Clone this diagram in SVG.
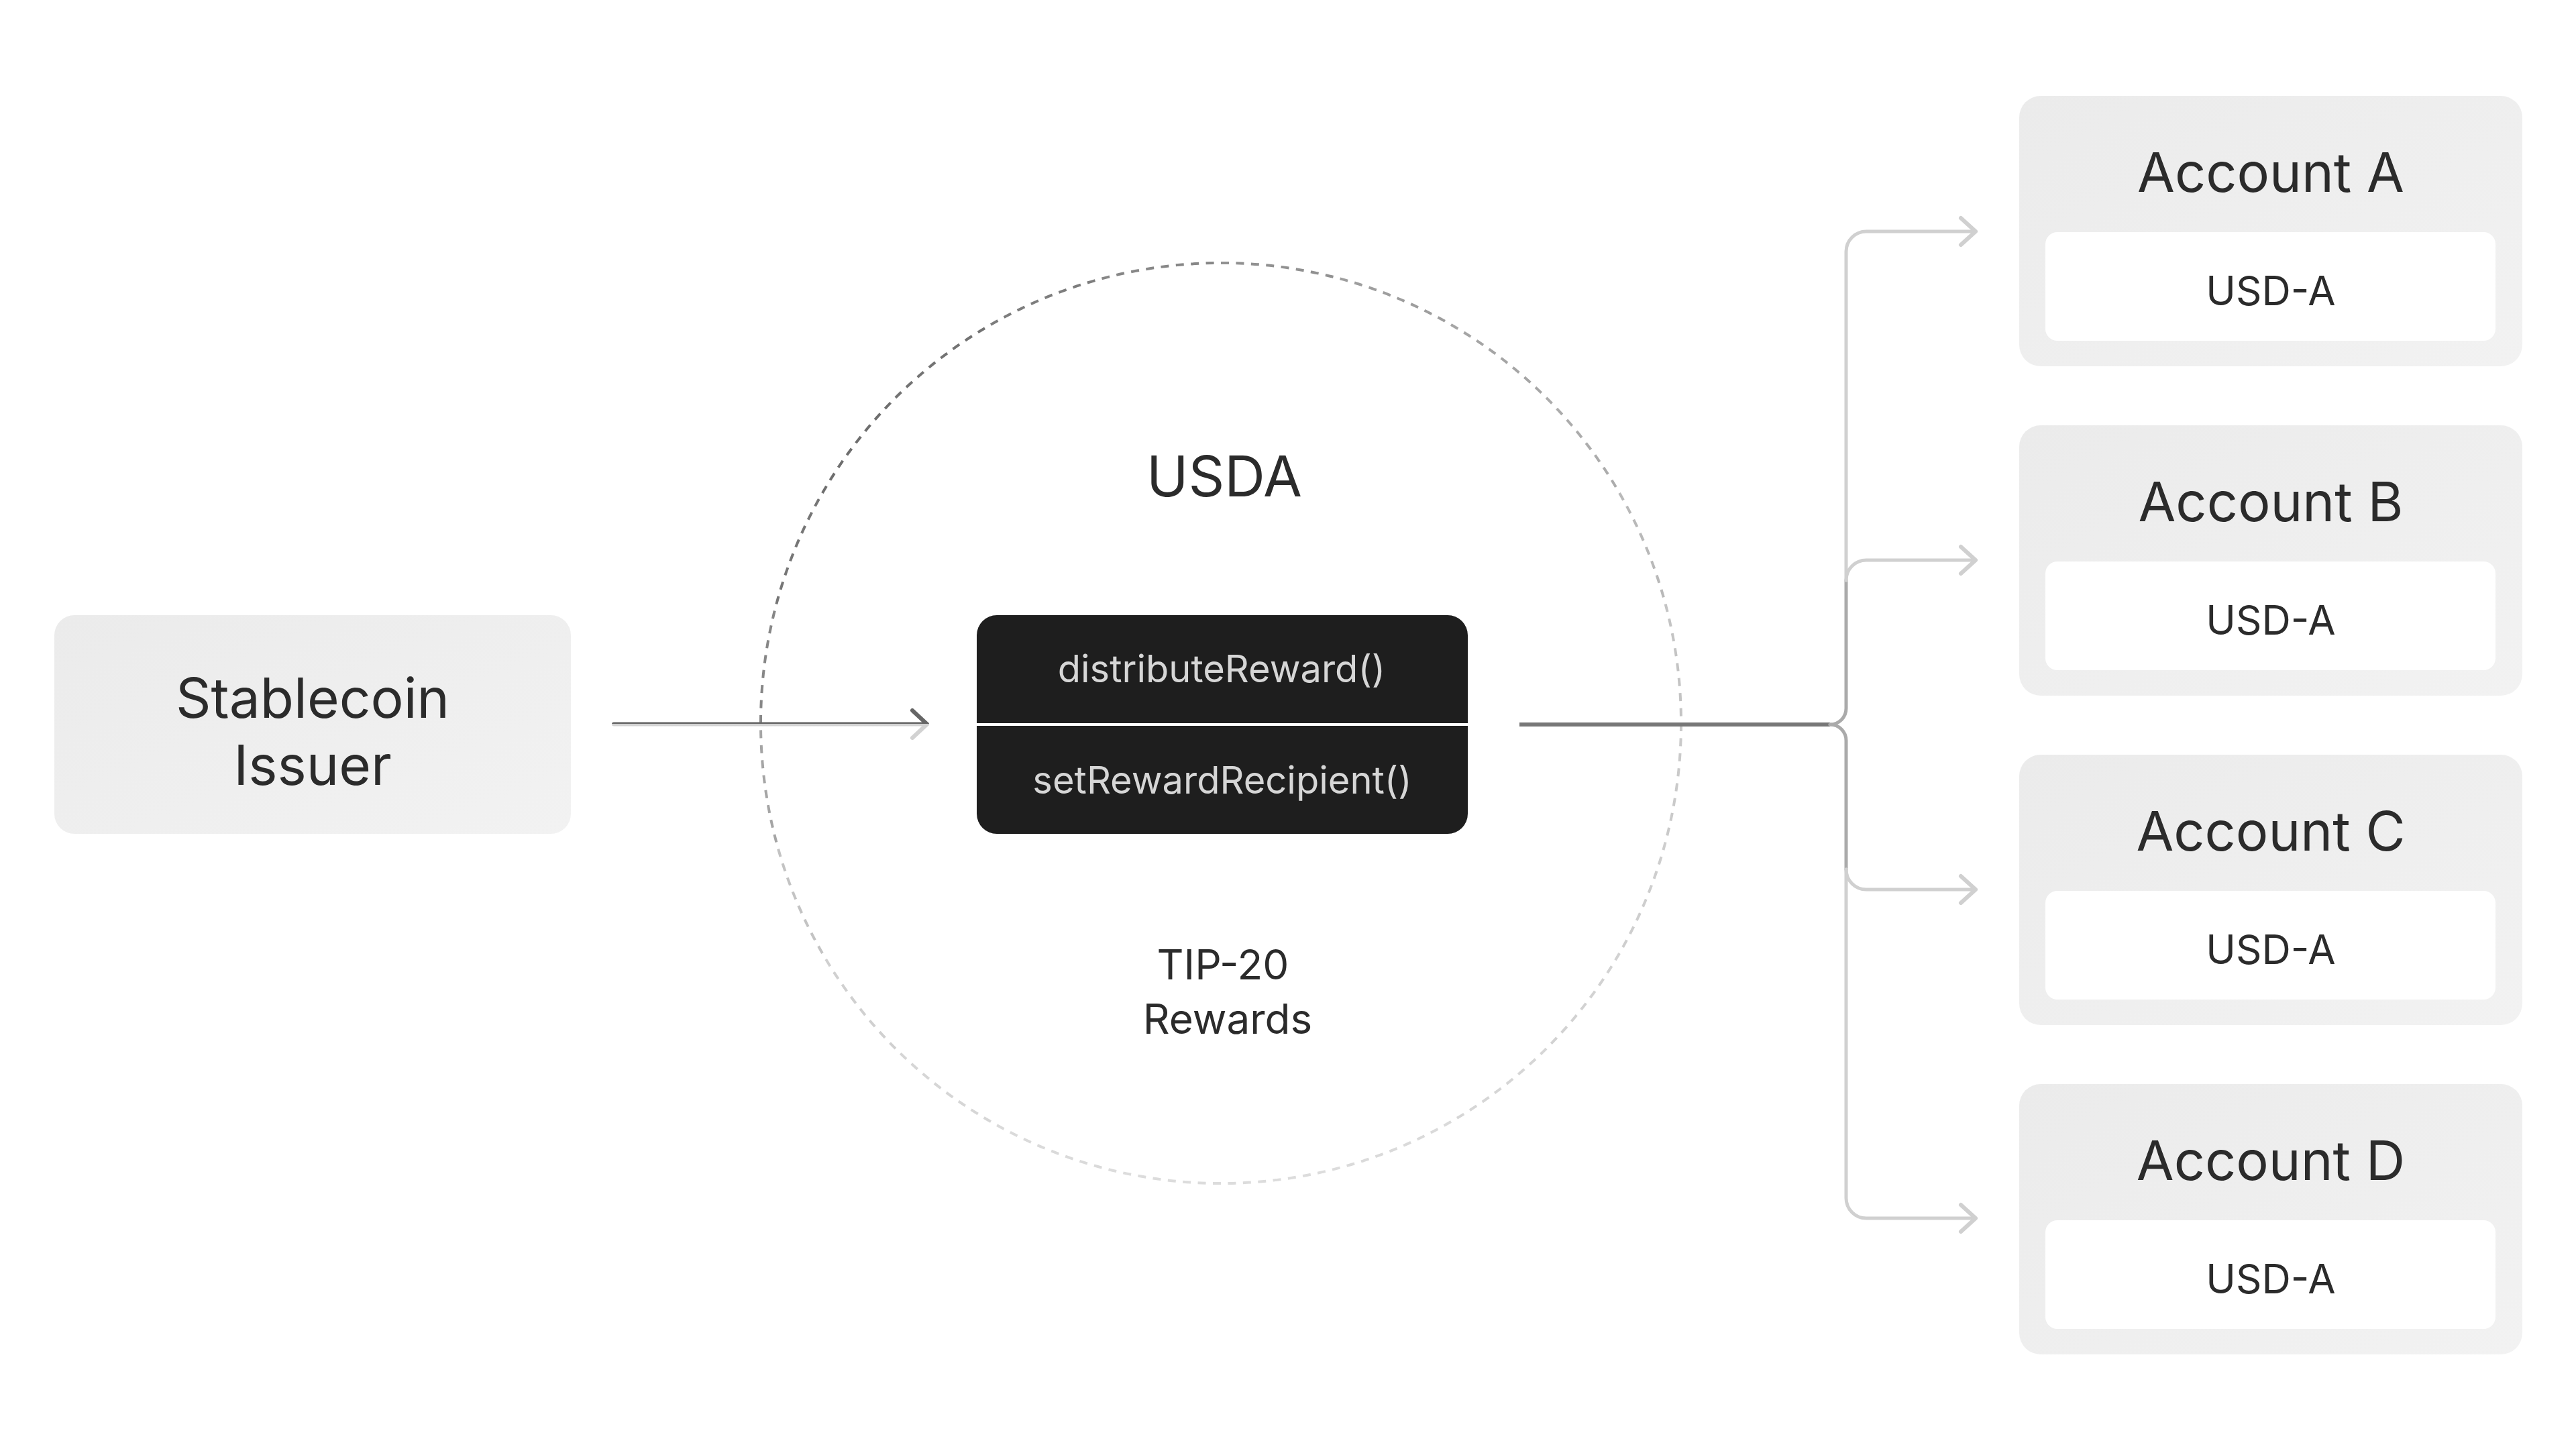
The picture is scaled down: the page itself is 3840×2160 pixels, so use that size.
<svg xmlns="http://www.w3.org/2000/svg" width="3840" height="2160" viewBox="0 0 3840 2160">
  <defs>
    <linearGradient id="boxGrad" x1="0" y1="0" x2="1" y2="1">
      <stop offset="0" stop-color="#ebebeb"/>
      <stop offset="1" stop-color="#f2f2f2"/>
    </linearGradient>
    <linearGradient id="issuerArrow" gradientUnits="userSpaceOnUse" x1="0" y1="1056" x2="0" y2="1103">
      <stop offset="0" stop-color="#666666"/>
      <stop offset="0.5" stop-color="#666666"/>
      <stop offset="0.5" stop-color="#d2d2d2"/>
      <stop offset="1" stop-color="#d2d2d2"/>
    </linearGradient>
    <marker id="chev" markerUnits="userSpaceOnUse" markerWidth="60" markerHeight="60" viewBox="-30 -30 60 60" refX="0" refY="0" orient="auto">
      <path d="M-22,-20 L0,0 L-22,20" fill="none" stroke="#d0d0d0" stroke-width="6" stroke-linecap="round" stroke-linejoin="round"/>
    </marker>
  </defs>
  <style>
    .t { font-family: Inter, "Liberation Sans", Arial, sans-serif; fill: #2b2b2b; text-anchor: middle; }
    .big { font-size: 81px; }
    .mid { font-size: 60px; }
    .fn { font-family: Inter, "Liberation Sans", Arial, sans-serif; fill: #d6d6d6; text-anchor: middle; font-size: 56px; }
    .card { fill: url(#boxGrad); }
    .inner { fill: #ffffff; }
    .ring path { fill: none; stroke-width: 4; stroke-dasharray: 12 10.45; }
    .conn { fill: none; stroke-linecap: round; stroke-linejoin: round; }
  </style>
  <rect width="3840" height="2160" fill="#ffffff"/>

  <!-- USDA dashed circle boundary -->
  <g id="usda-ring" class="ring">
    <path d="M1820,392 A686,686 0 0 1 1997.55,415.37" stroke="#919191"/>
    <path d="M1997.55,415.37 A686,686 0 0 1 2163,483.91" stroke="#9e9e9e"/>
    <path d="M2163,483.91 A686,686 0 0 1 2305.07,592.93" stroke="#a5a5a5"/>
    <path d="M2305.07,592.93 A686,686 0 0 1 2414.09,735" stroke="#acacac"/>
    <path d="M2414.09,735 A686,686 0 0 1 2482.63,900.45" stroke="#b9b9b9"/>
    <path d="M2482.63,900.45 A686,686 0 0 1 2506,1078" stroke="#c4c4c4"/>
    <path d="M2506,1078 A686,686 0 0 1 2482.63,1255.55" stroke="#cacaca"/>
    <path d="M2482.63,1255.55 A686,686 0 0 1 2414.09,1421" stroke="#cecece"/>
    <path d="M2414.09,1421 A686,686 0 0 1 2305.07,1563.07" stroke="#d2d2d2"/>
    <path d="M2305.07,1563.07 A686,686 0 0 1 2163,1672.09" stroke="#d6d6d6"/>
    <path d="M2163,1672.09 A686,686 0 0 1 1997.55,1740.63" stroke="#dadada"/>
    <path d="M1997.55,1740.63 A686,686 0 0 1 1820,1764" stroke="#dcdcdc"/>
    <path d="M1820,1764 A686,686 0 0 1 1642.45,1740.63" stroke="#dcdcdc"/>
    <path d="M1642.45,1740.63 A686,686 0 0 1 1477,1672.09" stroke="#dadada"/>
    <path d="M1477,1672.09 A686,686 0 0 1 1334.93,1563.07" stroke="#d6d6d6"/>
    <path d="M1334.93,1563.07 A686,686 0 0 1 1225.91,1421" stroke="#d0d0d0"/>
    <path d="M1225.91,1421 A686,686 0 0 1 1157.37,1255.55" stroke="#c3c3c3"/>
    <path d="M1157.37,1255.55 A686,686 0 0 1 1134,1078" stroke="#a5a5a5"/>
    <path d="M1134,1078 A686,686 0 0 1 1157.37,900.45" stroke="#878787"/>
    <path d="M1157.37,900.45 A686,686 0 0 1 1225.91,735" stroke="#767676"/>
    <path d="M1225.91,735 A686,686 0 0 1 1334.93,592.93" stroke="#6e6e6e"/>
    <path d="M1334.93,592.93 A686,686 0 0 1 1477,483.91" stroke="#737373"/>
    <path d="M1477,483.91 A686,686 0 0 1 1642.45,415.37" stroke="#7d7d7d"/>
    <path d="M1642.45,415.37 A686,686 0 0 1 1820,392" stroke="#878787"/>
  </g>

  <g id="usda-labels">
    <text class="t" x="1825" y="740" style="font-size:84px">USDA</text>
    <text class="t" y="1460" style="font-size:62px"><tspan x="1823">TIP-20</tspan><tspan x="1830" y="1541">Rewards</tspan></text>
  </g>

  <!-- Connectors -->
  <g id="connectors" class="conn">
    <path d="M915,1079.5 H1382 M1360,1059 L1382,1079.5 L1360,1100" stroke="url(#issuerArrow)" stroke-width="6"/>
    <path d="M2265,1080 H2728" stroke="#777777" stroke-width="6" stroke-linecap="butt"/>
    <path d="M2728,1080 A24,24 0 0 0 2752,1056 V865" stroke="#aaaaaa" stroke-width="5"/>
    <path d="M2728,1080 A24,24 0 0 1 2752,1104 V1296" stroke="#aaaaaa" stroke-width="5"/>
    <path d="M2752,865 V375 A30,30 0 0 1 2782,345 H2945" stroke="#d0d0d0" stroke-width="5" marker-end="url(#chev)"/>
    <path d="M2752,865 A30,30 0 0 1 2782,835 H2945" stroke="#d0d0d0" stroke-width="5" marker-end="url(#chev)"/>
    <path d="M2752,1296 A30,30 0 0 0 2782,1326 H2945" stroke="#d0d0d0" stroke-width="5" marker-end="url(#chev)"/>
    <path d="M2752,1296 V1786 A30,30 0 0 0 2782,1816 H2945" stroke="#d0d0d0" stroke-width="5" marker-end="url(#chev)"/>
  </g>

  <!-- Stablecoin Issuer -->
  <g id="issuer">
    <rect class="card" x="81" y="917" width="770" height="326" rx="30"/>
    <text class="t" x="466" y="1070" style="font-size:82px">Stablecoin</text>
    <text class="t" x="466" y="1170" style="font-size:82px">Issuer</text>
  </g>

  <!-- Contract functions -->
  <g id="functions">
    <rect x="1456" y="917" width="732" height="326" rx="30" fill="#1e1e1e"/>
    <rect x="1456" y="1078" width="732" height="4" fill="#ffffff"/>
    <text class="fn" x="1821" y="1017">distributeReward()</text>
    <text class="fn" x="1822" y="1183">setRewardRecipient()</text>
  </g>

  <!-- Accounts -->
  <g id="account-a">
    <rect class="card" x="3010" y="143" width="750" height="403" rx="32"/>
    <rect class="inner" x="3049" y="346" width="671" height="162" rx="18"/>
    <text class="t big" x="3385" y="286">Account A</text>
    <text class="t mid" x="3385" y="455">USD-A</text>
  </g>
  <g id="account-b">
    <rect class="card" x="3010" y="634" width="750" height="403" rx="32"/>
    <rect class="inner" x="3049" y="837" width="671" height="162" rx="18"/>
    <text class="t big" x="3385" y="777">Account B</text>
    <text class="t mid" x="3385" y="946">USD-A</text>
  </g>
  <g id="account-c">
    <rect class="card" x="3010" y="1125" width="750" height="403" rx="32"/>
    <rect class="inner" x="3049" y="1328" width="671" height="162" rx="18"/>
    <text class="t big" x="3385" y="1268">Account C</text>
    <text class="t mid" x="3385" y="1437">USD-A</text>
  </g>
  <g id="account-d">
    <rect class="card" x="3010" y="1616" width="750" height="403" rx="32"/>
    <rect class="inner" x="3049" y="1819" width="671" height="162" rx="18"/>
    <text class="t big" x="3385" y="1759">Account D</text>
    <text class="t mid" x="3385" y="1928">USD-A</text>
  </g>
</svg>
